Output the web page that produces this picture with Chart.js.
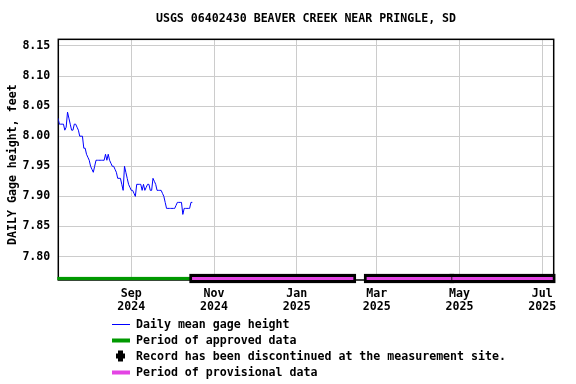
<!DOCTYPE html>
<html><head><meta charset="utf-8">
<script src="https://cdn.jsdelivr.net/npm/chart.js@4.4.1/dist/chart.umd.min.js"></script>
<style>html,body{margin:0;padding:0;background:#fff}#wrap{width:576px;height:384px;position:relative}</style>
</head><body><div id="wrap"><canvas id="c" width="576" height="384"></canvas></div>
<script>
const titleText = 'USGS 06402430 BEAVER CREEK NEAR PRINGLE, SD';
const yAxisTitle = 'DAILY Gage height, feet';
// x values are days counted from 2024-07-01
const firstDay = 8;
const gageHeight = [
  8.03, 8.02, 8.02, 8.02, 8.02, 8.01, 8.015, 8.04, 8.03, 8.02,
  8.01, 8.01, 8.02, 8.02, 8.015, 8.01, 8.00, 8.00, 8.00, 7.98,
  7.98, 7.97, 7.965, 7.96, 7.95, 7.945, 7.94, 7.95, 7.96, 7.96,
  7.96, 7.96, 7.96, 7.96, 7.96, 7.97, 7.96, 7.97, 7.96, 7.955,
  7.95, 7.95, 7.945, 7.94, 7.93, 7.93, 7.93, 7.92, 7.91, 7.95,
  7.94, 7.93, 7.92, 7.915, 7.91, 7.91, 7.905, 7.90, 7.92, 7.92,
  7.92, 7.92, 7.91, 7.92, 7.91, 7.915, 7.92, 7.92, 7.91, 7.91,
  7.93, 7.925, 7.92, 7.91, 7.91, 7.91, 7.91, 7.905, 7.90, 7.89,
  7.88, 7.88, 7.88, 7.88, 7.88, 7.88, 7.88, 7.885, 7.89, 7.89,
  7.89, 7.89, 7.87, 7.88, 7.88, 7.88, 7.88, 7.88, 7.89, 7.89
];
const approvedPeriods = [[8.2, 105.3]];
const provisionalPeriods = [[106.8, 225.7], [235.5, 298.0], [298.6, 372.7]];
const xRange = [8.2, 373.4];
const yRange = [7.761, 8.161];
const yTicks = [7.80, 7.85, 7.90, 7.95, 8.00, 8.05, 8.10, 8.15];
const xTickDays = [62, 123, 184, 243, 304, 365];
const xTickLabels = [['Sep','2024'],['Nov','2024'],['Jan','2025'],['Mar','2025'],['May','2025'],['Jul','2025']];
const legendLabels = ['Daily mean gage height','Period of approved data','Record has been discontinued at the measurement site.','Period of provisional data'];

const FONT = {family: "'DejaVu Sans Mono', monospace", weight: 'bold', size: 11.6};
const BLUE = '#0000ff', GREEN = '#009900', MAGENTA = '#e444e4';

const points = gageHeight.map((v, i) => ({x: firstDay + i, y: v}));

const extras = {
  id: 'extras',
  beforeDatasetsDraw(chart) {
    const {ctx, chartArea: a} = chart;
    ctx.save();
    ctx.strokeStyle = '#000'; ctx.lineWidth = 1.5;
    ctx.strokeRect(a.left, a.top, a.right - a.left, a.bottom - a.top);
    // y axis title
    ctx.font = `bold ${FONT.size}px ${FONT.family}`;
    ctx.fillStyle = '#000'; ctx.textAlign = 'center'; ctx.textBaseline = 'middle';
    ctx.translate(12.5, (a.top + a.bottom) / 2 + 5);
    ctx.rotate(-Math.PI / 2);
    ctx.fillText(yAxisTitle, 0, 0);
    ctx.restore();
  },
  afterDatasetsDraw(chart) {
    const {ctx, chartArea: a, scales: {x}} = chart;
    const yc = a.bottom - 1.5;
    ctx.save();
    approvedPeriods.forEach(([s, e]) => {
      const x1 = x.getPixelForValue(s), x2 = x.getPixelForValue(e);
      ctx.fillStyle = GREEN; ctx.fillRect(x1 - 1, yc - 1.6, x2 - x1 + 1, 3.2);
    });
    provisionalPeriods.forEach(([s, e]) => {
      const x1 = x.getPixelForValue(s), x2 = x.getPixelForValue(e);
      ctx.fillStyle = '#000'; ctx.fillRect(x1 - 2.7, yc - 4.6, x2 - x1 + 5.4, 9.2);
    });
    provisionalPeriods.forEach(([s, e]) => {
      const x1 = x.getPixelForValue(s), x2 = x.getPixelForValue(e);
      ctx.fillStyle = MAGENTA; ctx.fillRect(x1, yc - 1.5, x2 - x1, 3);
    });
    // legend
    const lx = 112, tx = 136, rows = [324.5, 340.5, 356.5, 372.5];
    ctx.font = `bold ${FONT.size}px ${FONT.family}`;
    ctx.textBaseline = 'middle'; ctx.textAlign = 'left';
    ctx.strokeStyle = BLUE; ctx.lineWidth = 1;
    ctx.beginPath(); ctx.moveTo(lx, rows[0]); ctx.lineTo(lx + 18, rows[0]); ctx.stroke();
    ctx.fillStyle = GREEN; ctx.fillRect(lx, rows[1] - 2, 18, 4);
    ctx.fillStyle = '#000';
    const cx = 120.5, cy = rows[2] - 0.5;
    ctx.beginPath();
    ctx.moveTo(cx - 2.5, cy - 5.5); ctx.lineTo(cx + 2.5, cy - 5.5); ctx.lineTo(cx + 2.5, cy - 2.5);
    ctx.lineTo(cx + 4.5, cy - 2.5); ctx.lineTo(cx + 4.5, cy + 2.5); ctx.lineTo(cx + 2.5, cy + 2.5);
    ctx.lineTo(cx + 2.5, cy + 5.5); ctx.lineTo(cx - 2.5, cy + 5.5); ctx.lineTo(cx - 2.5, cy + 2.5);
    ctx.lineTo(cx - 4.5, cy + 2.5); ctx.lineTo(cx - 4.5, cy - 2.5); ctx.lineTo(cx - 2.5, cy - 2.5);
    ctx.closePath(); ctx.fill();
    ctx.fillStyle = MAGENTA; ctx.fillRect(lx, rows[3] - 2, 18, 4);
    ctx.fillStyle = '#000';
    legendLabels.forEach((t, i) => ctx.fillText(t, tx, rows[i] + 0.5));
    ctx.restore();
  }
};

new Chart(document.getElementById('c'), {
  type: 'line',
  data: {datasets: [{
    label: legendLabels[0], data: points, borderColor: BLUE, borderWidth: 1,
    pointRadius: 0, tension: 0, fill: false
  }]},
  options: {
    responsive: false, animation: false, devicePixelRatio: 1,
    layout: {padding: {left: 0, right: 22.3, top: 0, bottom: 0}},
    plugins: {
      legend: {display: false}, tooltip: {enabled: false},
      title: {display: true, text: titleText, color: '#000', font: FONT, fullSize: false,
              padding: {top: 12, bottom: 13.4}}
    },
    scales: {
      x: {
        type: 'linear', min: xRange[0], max: xRange[1],
        afterBuildTicks: s => { s.ticks = xTickDays.map(v => ({value: v})); },
        afterFit: s => { s.height = 104; },
        ticks: {color: '#000', font: {...FONT, lineHeight: 1.07}, padding: 8, maxRotation: 0, autoSkip: false,
                callback: (v) => xTickLabels[xTickDays.indexOf(v)]},
        grid: {color: '#cccccc', lineWidth: 1, drawTicks: false},
        border: {display: false}
      },
      y: {
        type: 'linear', min: yRange[0], max: yRange[1],
        afterBuildTicks: s => { s.ticks = yTicks.map(v => ({value: v})); },
        afterFit: s => { s.width = 58.3; },
        ticks: {color: '#000', font: FONT, padding: 8, callback: v => v.toFixed(2)},
        grid: {color: '#cccccc', lineWidth: 1, drawTicks: false},
        border: {display: false}
      }
    }
  },
  plugins: [extras]
});
</script></body></html>
